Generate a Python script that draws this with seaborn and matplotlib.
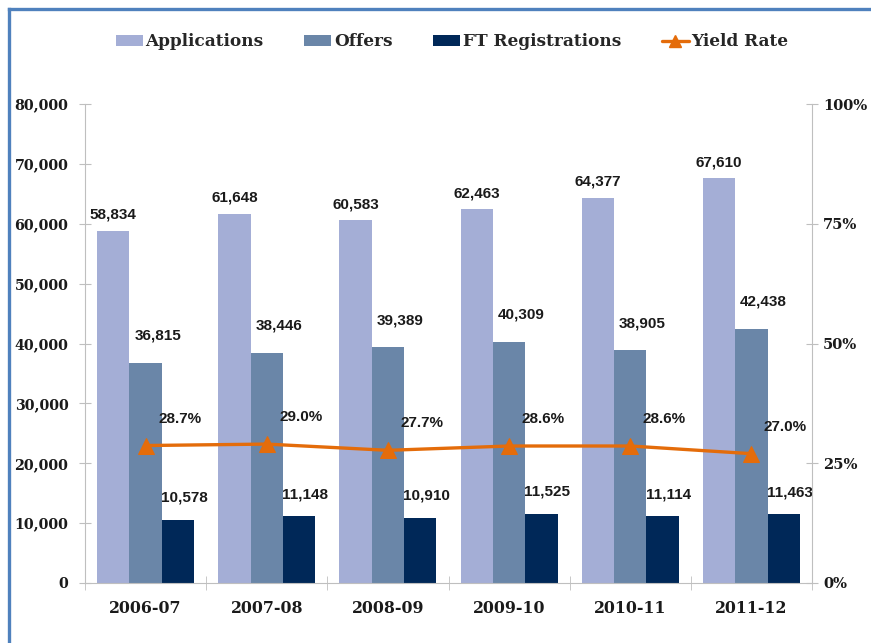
import matplotlib
matplotlib.use("Agg")
import matplotlib.pyplot as plt
from matplotlib.lines import Line2D
from matplotlib.patches import Patch
from matplotlib.ticker import FuncFormatter, MultipleLocator, FixedLocator
import seaborn as sns
import pandas as pd

years = ["2006-07", "2007-08", "2008-09", "2009-10", "2010-11", "2011-12"]
applications = [58834, 61648, 60583, 62463, 64377, 67610]
offers = [36815, 38446, 39389, 40309, 38905, 42438]
registrations = [10578, 11148, 10910, 11525, 11114, 11463]
yield_rate = [28.7, 29.0, 27.7, 28.6, 28.6, 27.0]
series_names = ["Applications", "Offers", "FT Registrations"]
colors = ["#A4AED6", "#6A86A8", "#002858"]
line_color = "#E46C0A"

df = pd.DataFrame({
    "Year": years * 3,
    "Value": applications + offers + registrations,
    "Series": [s for s in series_names for _ in years],
})

sns.set_style("white")
serif = ["DejaVu Serif"]
narrow = ["Liberation Sans Narrow", "Liberation Sans", "DejaVu Sans"]

fig = plt.figure(figsize=(8.71, 6.43), dpi=100)
ax = fig.add_axes([85 / 871, 1 - 583 / 643, (812 - 85) / 871, (583 - 104) / 643])

sns.barplot(data=df, x="Year", y="Value", hue="Series", palette=colors,
            saturation=1, width=0.8, ax=ax, legend=False, errorbar=None,
            edgecolor="none")

ax.set_ylim(0, 80000)
ax.set_xlim(-0.5, 5.5)
ax.yaxis.set_major_locator(MultipleLocator(10000))
ax.yaxis.set_major_formatter(FuncFormatter(lambda v, p: f"{int(v):,}"))
ax.set_xlabel("")
ax.set_ylabel("")
ax.set_xticks(range(len(years)))
ax.set_xticklabels(years)

# data labels
offsets = [(0, 9), (12, 20), (6, 15)]
for cont, (dx, dy) in zip(ax.containers, offsets):
    for bar in cont:
        h = bar.get_height()
        ax.annotate(f"{int(round(h)):,}", (bar.get_x() + bar.get_width() / 2, h),
                    xytext=(dx, dy), textcoords="offset pixels",
                    ha="center", va="bottom", fontsize=11, fontweight="bold",
                    family=narrow, color="#1a1a1a")

ax2 = ax.twinx()
sns.lineplot(x=list(range(len(years))), y=yield_rate, ax=ax2, color=line_color,
             linewidth=2.4, marker="^", markersize=12, markeredgecolor=line_color,
             legend=False)
ax2.set_ylim(0, 100)
ax2.set_xlim(-0.5, 5.5)
ax2.yaxis.set_major_locator(FixedLocator([0, 25, 50, 75, 100]))
ax2.yaxis.set_major_formatter(FuncFormatter(lambda v, p: f"{int(v)}%"))
for i, v in enumerate(yield_rate):
    ax2.annotate(f"{v:.1f}%", (i, v), xytext=(34, 20), textcoords="offset pixels",
                 ha="center", va="bottom", fontsize=11, fontweight="bold",
                 family=narrow, color="#1a1a1a")

spine_c = "#BFBFBF"
for a in (ax, ax2):
    for s in a.spines.values():
        s.set_visible(False)
ax.spines["left"].set_visible(True)
ax.spines["left"].set_color(spine_c)
ax.spines["bottom"].set_visible(True)
ax.spines["bottom"].set_color(spine_c)
ax2.spines["right"].set_visible(True)
ax2.spines["right"].set_color(spine_c)

ax.tick_params(axis="y", direction="inout", length=8, color=spine_c, pad=8,
               left=True, labelsize=10.3)
ax2.tick_params(axis="y", direction="inout", length=8, color=spine_c, pad=4,
                right=True, labelsize=10.5)
ax.xaxis.set_minor_locator(FixedLocator([i - 0.5 for i in range(len(years) + 1)]))
ax.tick_params(axis="x", which="major", length=0, pad=12, labelsize=11.3)
ax.tick_params(axis="x", which="minor", direction="inout", length=10, color=spine_c, bottom=True)
ax2.tick_params(axis="x", which="both", bottom=False, top=False,
                labelbottom=False, labeltop=False)

for lab in ax.get_yticklabels() + ax2.get_yticklabels() + ax.get_xticklabels():
    lab.set_fontfamily(serif)
    lab.set_fontweight("bold")
    lab.set_color("#1a1a1a")

handles = [Patch(facecolor=c, edgecolor="none") for c in colors]
handles.append(Line2D([0], [0], color=line_color, linewidth=2.4, marker="^",
                      markersize=9))
fig.legend(handles, series_names + ["Yield Rate"], loc="center",
           bbox_to_anchor=(452 / 871, 1 - 42 / 643), ncol=4, frameon=False,
           prop={"family": serif, "weight": "bold", "size": 12.2},
           handlelength=1.6, handleheight=0.6, handletextpad=0.15, columnspacing=2.4)

# blue frame
frame_c = "#4F81BD"
fig.add_artist(Line2D([8.5 / 871, 8.5 / 871], [0, 1 - 8.5 / 643], transform=fig.transFigure,
                      color=frame_c, linewidth=2.4, solid_capstyle="projecting"))
fig.add_artist(Line2D([8.5 / 871, 1], [1 - 8.5 / 643, 1 - 8.5 / 643], transform=fig.transFigure,
                      color=frame_c, linewidth=2.4, solid_capstyle="projecting"))

fig.savefig("out.png", dpi=100)
